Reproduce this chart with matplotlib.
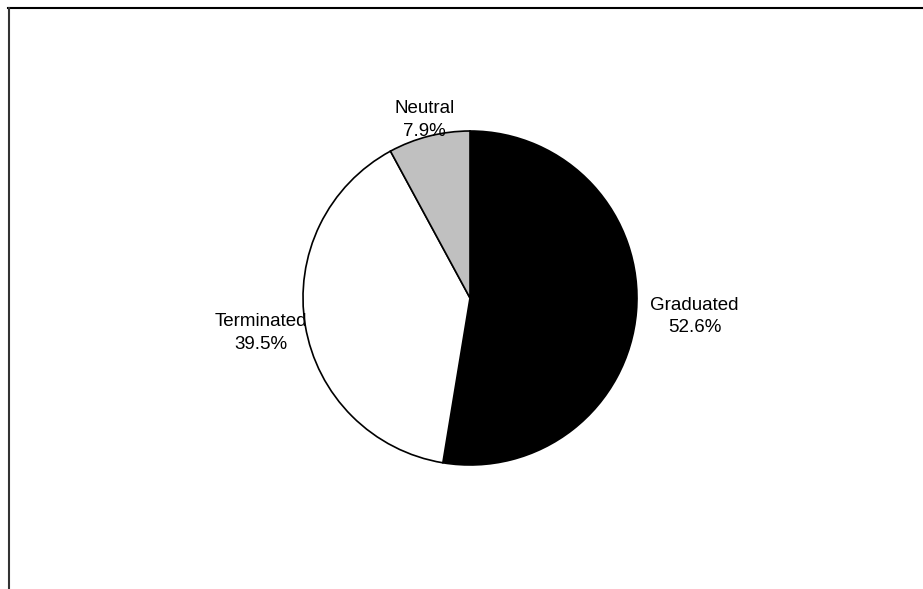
import numpy as np
import matplotlib
matplotlib.use("Agg")
import matplotlib.pyplot as plt
from matplotlib.lines import Line2D

plt.rcParams['font.family'] = ['Liberation Sans', 'DejaVu Sans']

categories = ["Graduated", "Terminated", "Neutral"]
values = [52.6, 39.5, 7.9]
colors = ["#000000", "#ffffff", "#c0c0c0"]
label_dist = [1.35, 1.27, 1.10]

W, H = 923, 589
fig = plt.figure(figsize=(W / 100, H / 100), dpi=100)

# axes sized so the pie sits centred at (470, 298) px with radius ~167 px
lim = 1.4
r_px = 167
size = 2 * lim * r_px
cx, cy = 470, 298
ax = fig.add_axes([(cx - size / 2) / W, (H - cy - size / 2) / H, size / W, size / H])

wedges, _ = ax.pie(values, colors=colors, startangle=90, counterclock=False,
                   wedgeprops=dict(edgecolor="black", linewidth=1.2))
ax.set_xlim(-lim, lim)
ax.set_ylim(-lim, lim)
ax.set_aspect("equal")
ax.axis("off")

for w, name, val, d in zip(wedges, categories, values, label_dist):
    ang = np.deg2rad((w.theta1 + w.theta2) / 2)
    ax.text(d * np.cos(ang), d * np.sin(ang), f"{name}\n{val:.1f}%",
            ha="center", va="center", fontsize=13.5, linespacing=1.42)

# chart area frame (top and left edges visible)
fig.add_artist(Line2D([8 / W, 1.0], [1 - 7.5 / H, 1 - 7.5 / H], transform=fig.transFigure,
                      color="black", linewidth=1.5))
fig.add_artist(Line2D([8.5 / W, 8.5 / W], [0, 1 - 7.5 / H], transform=fig.transFigure,
                      color="#333333", linewidth=1.5))

fig.savefig("out.png", dpi=100, facecolor="white")
